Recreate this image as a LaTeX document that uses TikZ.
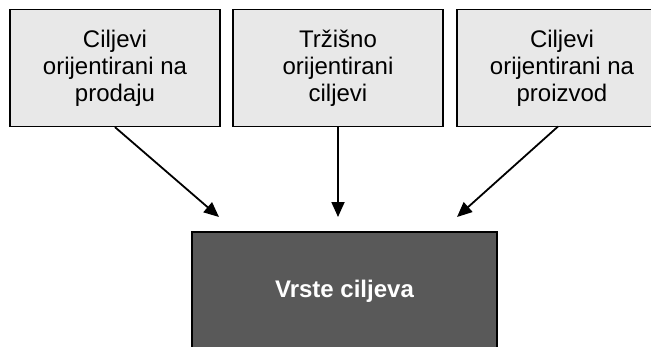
\documentclass[tikz,border=0pt]{standalone}
\usepackage{fontspec}
\setmainfont{Liberation Sans}
\usetikzlibrary{arrows.meta}
\definecolor{topfill}{HTML}{E8E8E8}
\definecolor{botfill}{HTML}{595959}
\tikzset{
  topbox/.style={draw=black, line width=1.3pt, fill=topfill, minimum width=210pt, minimum height=117pt, inner sep=0pt, align=center, font=\fontsize{24}{27}\selectfont},
  botbox/.style={draw=black, line width=1.3pt, fill=botfill, minimum width=305pt, minimum height=119pt, inner sep=0pt, text=white, font=\fontsize{24}{27}\selectfont\bfseries},
  conn/.style={line width=1.8pt, -{Triangle[length=15pt,width=13pt]}}
}
\begin{document}
\begin{tikzpicture}[x=1pt,y=-1pt]
\useasboundingbox (0,0) rectangle (651,346);
\node[topbox] (a) at (115,68) {Ciljevi\\orijentirani na\\prodaju};
\node[topbox] (b) at (338,68) {Tržišno\\orijentirani\\ciljevi};
\node[topbox] (c) at (562,68) {Ciljevi\\orijentirani na\\proizvod};
\node[botbox] (d) at (344.5,291.5) {Vrste ciljeva};
\coordinate (ta) at (219,217);
\coordinate (tb) at (338,217);
\coordinate (tc) at (457,217);
\coordinate (sc) at (558,126.5);
\draw[conn] (a.south) -- (ta);
\draw[conn] (b.south) -- (tb);
\draw[conn] (sc) -- (tc);
\end{tikzpicture}
\end{document}
